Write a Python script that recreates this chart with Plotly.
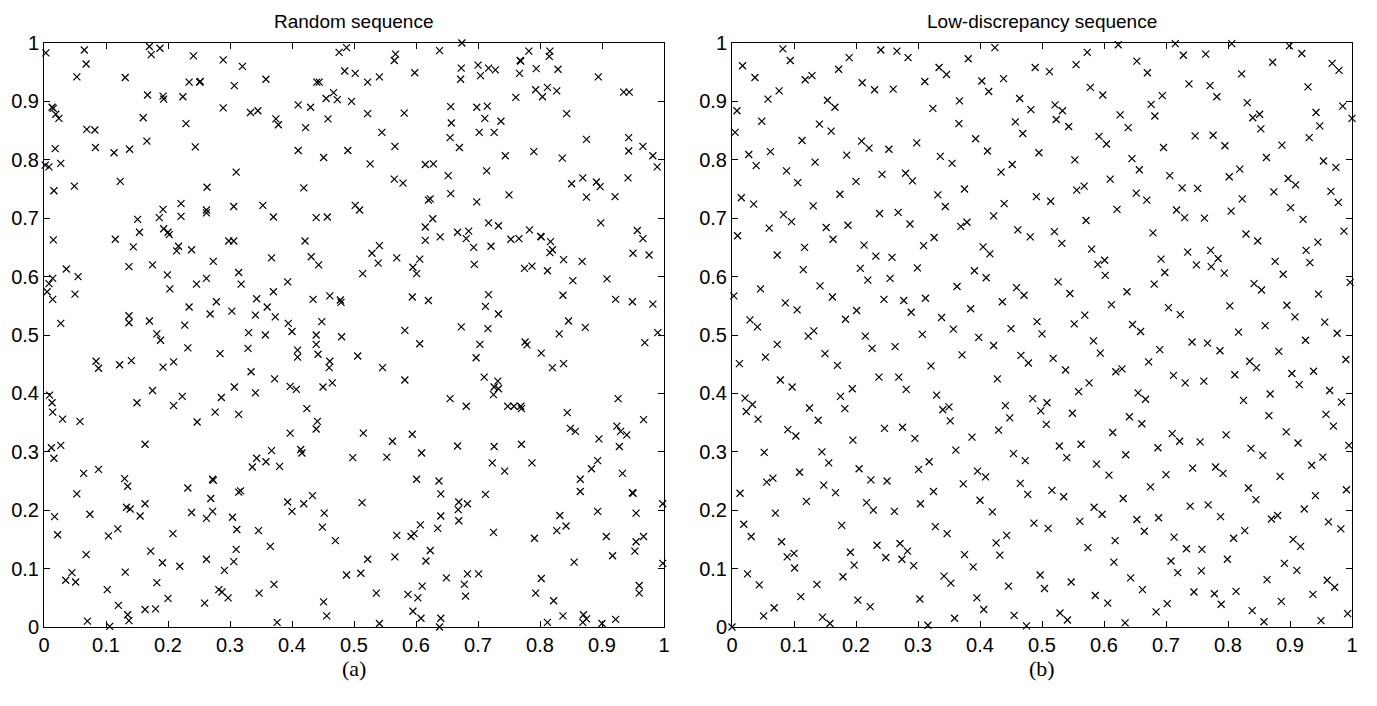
import plotly.graph_objects as go

# ---------------- data ----------------
tick_vals = [0, 0.1, 0.2, 0.3, 0.4, 0.5, 0.6, 0.7, 0.8, 0.9, 1]
tick_text = ["0", "0.1", "0.2", "0.3", "0.4", "0.5", "0.6", "0.7", "0.8", "0.9", "1"]
titles = ["Random sequence", "Low-discrepancy sequence"]
captions = ["(a)", "(b)"]

random_pts = [
(0.003,0.983),(0.065,0.988),(0.068,0.964),(0.053,0.942),(0.131,0.941),(0.170,0.994),(0.173,0.980),(0.187,0.991),(0.241,0.978),(0.289,0.971),(0.320,0.960),(0.307,0.927),(0.234,0.933),(0.251,0.933),(0.252,0.934),(0.167,0.911),(0.192,0.909),(0.193,0.904),(0.224,0.908),(0.013,0.890),(0.015,0.888),(0.019,0.878),(0.024,0.871),(0.160,0.872),(0.229,0.862),(0.289,0.889),(0.069,0.852),(0.082,0.851),(0.166,0.832),(0.018,0.819),(0.083,0.821),(0.113,0.812),(0.138,0.818),(0.244,0.822),(0.002,0.791),(0.008,0.788),(0.027,0.794),(0.310,0.779),(0.049,0.755),(0.123,0.763),(0.016,0.747),(0.263,0.753),(0.221,0.725),(0.192,0.715),(0.221,0.703),(0.262,0.714),(0.262,0.709),(0.306,0.720),(0.151,0.698),(0.186,0.701),(0.154,0.676),(0.193,0.682),(0.200,0.676),(0.202,0.672),(0.015,0.663),(0.115,0.664),(0.144,0.651),(0.217,0.652),(0.214,0.644),(0.238,0.646),(0.298,0.661),(0.306,0.661),(0.273,0.626),(0.036,0.613),(0.137,0.617),(0.175,0.620),(0.014,0.597),(0.008,0.588),(0.005,0.574),(0.014,0.561),(0.055,0.600),(0.050,0.570),(0.199,0.603),(0.203,0.579),(0.246,0.587),(0.262,0.597),(0.314,0.607),(0.318,0.587),(0.278,0.557),(0.234,0.548),(0.268,0.536),(0.303,0.541),(0.027,0.520),(0.137,0.533),(0.137,0.521),(0.170,0.524),(0.227,0.517),(0.182,0.502),(0.330,0.504),
(0.476,0.984),(0.488,0.992),(0.567,0.981),(0.565,0.970),(0.638,0.987),(0.358,0.938),(0.440,0.933),(0.444,0.933),(0.485,0.952),(0.502,0.948),(0.522,0.933),(0.541,0.942),(0.598,0.949),(0.455,0.905),(0.467,0.915),(0.473,0.903),(0.496,0.900),(0.410,0.894),(0.430,0.890),(0.333,0.881),(0.345,0.884),(0.374,0.870),(0.378,0.860),(0.458,0.870),(0.422,0.855),(0.522,0.879),(0.581,0.880),(0.656,0.891),(0.657,0.863),(0.655,0.838),(0.545,0.847),(0.410,0.816),(0.451,0.804),(0.490,0.816),(0.566,0.823),(0.526,0.793),(0.615,0.792),(0.628,0.793),(0.652,0.773),(0.565,0.767),(0.579,0.760),(0.419,0.752),(0.656,0.742),(0.620,0.731),(0.623,0.733),(0.353,0.722),(0.370,0.702),(0.439,0.701),(0.457,0.702),(0.502,0.722),(0.509,0.714),(0.627,0.699),(0.615,0.685),(0.615,0.662),(0.639,0.668),(0.421,0.661),(0.367,0.632),(0.431,0.634),(0.443,0.620),(0.541,0.653),(0.529,0.640),(0.539,0.623),(0.569,0.632),(0.595,0.616),(0.601,0.605),(0.606,0.630),(0.514,0.605),(0.393,0.591),(0.370,0.574),(0.343,0.562),(0.360,0.548),(0.341,0.534),(0.373,0.531),(0.394,0.520),(0.400,0.506),(0.434,0.561),(0.461,0.567),(0.478,0.560),(0.479,0.556),(0.448,0.523),(0.357,0.500),(0.439,0.500),(0.480,0.497),(0.594,0.565),(0.620,0.559),(0.582,0.508),
(0.674,1.000),(0.782,0.986),(0.816,0.986),(0.815,0.977),(0.768,0.970),(0.769,0.969),(0.673,0.957),(0.672,0.938),(0.700,0.962),(0.704,0.944),(0.717,0.957),(0.728,0.954),(0.767,0.948),(0.794,0.956),(0.829,0.955),(0.894,0.942),(0.793,0.920),(0.804,0.908),(0.812,0.924),(0.827,0.918),(0.761,0.907),(0.935,0.916),(0.944,0.916),(0.698,0.890),(0.715,0.892),(0.711,0.871),(0.737,0.866),(0.702,0.847),(0.726,0.847),(0.843,0.879),(0.670,0.821),(0.744,0.807),(0.790,0.814),(0.836,0.803),(0.875,0.835),(0.943,0.838),(0.943,0.815),(0.966,0.823),(0.982,0.807),(0.989,0.788),(0.714,0.781),(0.851,0.759),(0.869,0.769),(0.891,0.762),(0.897,0.754),(0.942,0.769),(0.875,0.736),(0.921,0.737),(0.750,0.740),(0.698,0.728),(0.717,0.692),(0.733,0.687),(0.898,0.692),(0.667,0.676),(0.685,0.678),(0.681,0.665),(0.693,0.650),(0.721,0.652),(0.753,0.664),(0.766,0.665),(0.783,0.680),(0.801,0.669),(0.802,0.668),(0.817,0.660),(0.816,0.641),(0.820,0.646),(0.957,0.679),(0.966,0.665),(0.950,0.640),(0.976,0.637),(0.694,0.621),(0.775,0.614),(0.787,0.618),(0.812,0.610),(0.838,0.629),(0.868,0.626),(0.853,0.593),(0.908,0.596),(0.717,0.569),(0.712,0.549),(0.733,0.536),(0.837,0.568),(0.922,0.561),(0.949,0.557),(0.982,0.553),(0.673,0.514),(0.716,0.511),(0.846,0.524),(0.831,0.502),(0.873,0.513),(0.990,0.504),
(0.188,0.491),(0.232,0.478),(0.284,0.468),(0.084,0.455),(0.088,0.443),(0.122,0.449),(0.141,0.456),(0.192,0.445),(0.209,0.454),(0.175,0.405),(0.307,0.411),(0.009,0.397),(0.013,0.384),(0.014,0.368),(0.030,0.356),(0.058,0.352),(0.150,0.384),(0.209,0.379),(0.223,0.395),(0.286,0.393),(0.276,0.368),(0.314,0.364),(0.247,0.351),(0.012,0.307),(0.027,0.311),(0.016,0.289),(0.163,0.313),(0.064,0.263),(0.088,0.270),(0.130,0.254),(0.135,0.241),(0.053,0.228),(0.232,0.238),(0.272,0.253),(0.273,0.251),(0.269,0.220),(0.314,0.231),(0.317,0.233),(0.133,0.205),(0.139,0.202),(0.163,0.211),(0.155,0.190),(0.017,0.189),(0.074,0.193),(0.238,0.196),(0.262,0.186),(0.272,0.198),(0.304,0.188),(0.311,0.167),(0.022,0.158),(0.104,0.156),(0.119,0.168),(0.208,0.160),(0.068,0.124),(0.172,0.130),(0.310,0.133),(0.191,0.110),(0.219,0.104),(0.262,0.116),(0.306,0.112),(0.291,0.097),(0.045,0.093),(0.035,0.080),(0.051,0.077),(0.131,0.094),(0.182,0.076),(0.102,0.064),(0.282,0.064),(0.287,0.060),(0.297,0.050),(0.200,0.049),(0.259,0.041),(0.120,0.037),(0.135,0.021),(0.137,0.011),(0.163,0.030),(0.180,0.031),(0.070,0.010),(0.106,0.001),
(0.329,0.477),(0.409,0.474),(0.409,0.462),(0.439,0.484),(0.442,0.467),(0.461,0.455),(0.460,0.444),(0.506,0.464),(0.546,0.444),(0.606,0.485),(0.582,0.423),(0.334,0.437),(0.372,0.425),(0.397,0.412),(0.407,0.407),(0.450,0.411),(0.465,0.418),(0.341,0.401),(0.655,0.391),(0.424,0.374),(0.441,0.352),(0.439,0.339),(0.397,0.332),(0.515,0.332),(0.562,0.318),(0.594,0.330),(0.367,0.302),(0.414,0.304),(0.416,0.298),(0.343,0.289),(0.358,0.283),(0.336,0.274),(0.380,0.275),(0.498,0.290),(0.553,0.291),(0.609,0.298),(0.601,0.253),(0.637,0.250),(0.640,0.228),(0.669,0.214),(0.393,0.214),(0.400,0.198),(0.419,0.211),(0.433,0.225),(0.452,0.195),(0.449,0.171),(0.513,0.213),(0.640,0.190),(0.669,0.182),(0.607,0.175),(0.635,0.169),(0.346,0.165),(0.365,0.138),(0.470,0.148),(0.569,0.157),(0.592,0.155),(0.597,0.160),(0.623,0.131),(0.616,0.113),(0.522,0.116),(0.566,0.120),(0.488,0.089),(0.511,0.092),(0.649,0.084),(0.371,0.073),(0.347,0.058),(0.536,0.058),(0.587,0.056),(0.603,0.050),(0.610,0.070),(0.451,0.043),(0.456,0.019),(0.595,0.027),(0.608,0.015),(0.640,0.015),(0.638,0.000),(0.376,0.008),(0.541,0.006),
(0.703,0.484),(0.776,0.488),(0.779,0.483),(0.802,0.469),(0.697,0.461),(0.820,0.444),(0.838,0.451),(0.969,0.487),(0.710,0.428),(0.732,0.421),(0.726,0.411),(0.733,0.408),(0.725,0.398),(0.681,0.378),(0.748,0.378),(0.758,0.378),(0.769,0.378),(0.770,0.374),(0.844,0.367),(0.926,0.391),(0.967,0.355),(0.849,0.340),(0.857,0.335),(0.924,0.344),(0.930,0.335),(0.940,0.329),(0.895,0.322),(0.667,0.310),(0.726,0.309),(0.770,0.313),(0.928,0.309),(0.723,0.281),(0.743,0.267),(0.787,0.281),(0.893,0.285),(0.883,0.271),(0.865,0.253),(0.933,0.263),(0.865,0.232),(0.949,0.230),(0.950,0.229),(0.712,0.227),(0.683,0.211),(0.668,0.201),(0.998,0.211),(0.832,0.191),(0.893,0.198),(0.955,0.195),(0.827,0.165),(0.842,0.173),(0.725,0.162),(0.791,0.152),(0.907,0.155),(0.967,0.155),(0.955,0.146),(0.953,0.130),(0.917,0.122),(0.855,0.111),(0.998,0.109),(0.683,0.091),(0.701,0.091),(0.678,0.073),(0.680,0.053),(0.802,0.083),(0.793,0.058),(0.822,0.045),(0.960,0.071),(0.960,0.058),(0.837,0.019),(0.870,0.021),(0.875,0.014),(0.869,0.008),(0.812,0.008),(0.900,0.006),(0.922,0.013),
]

lowdisc_pts = [
(0.082,0.990),(0.094,0.970),(0.017,0.961),(0.037,0.941),(0.076,0.918),(0.058,0.904),(0.008,0.884),(0.048,0.866),(0.005,0.847),(0.118,0.937),(0.129,0.944),(0.172,0.955),(0.189,0.975),(0.240,0.988),(0.266,0.986),(0.284,0.975),(0.210,0.932),(0.230,0.920),(0.260,0.921),(0.154,0.902),(0.166,0.890),(0.141,0.861),(0.160,0.849),(0.113,0.833),(0.209,0.832),(0.221,0.820),(0.253,0.818),(0.027,0.809),(0.062,0.814),(0.039,0.790),(0.185,0.808),(0.134,0.796),(0.088,0.781),(0.106,0.761),(0.200,0.763),(0.242,0.775),(0.280,0.777),(0.291,0.764),(0.174,0.741),(0.015,0.735),(0.035,0.724),(0.131,0.721),(0.083,0.706),(0.096,0.694),(0.238,0.708),(0.268,0.710),(0.287,0.690),(0.060,0.683),(0.152,0.684),(0.187,0.688),(0.163,0.664),(0.009,0.670),(0.073,0.637),(0.117,0.650),(0.213,0.654),(0.232,0.635),(0.258,0.633),(0.115,0.612),(0.207,0.614),(0.219,0.594),(0.255,0.597),(0.003,0.567),(0.046,0.579),(0.142,0.584),(0.162,0.565),(0.086,0.555),(0.105,0.543),(0.245,0.561),(0.277,0.559),(0.289,0.539),(0.201,0.542),(0.183,0.527),(0.029,0.526),(0.041,0.514),(0.132,0.507),(0.123,0.498),(0.215,0.498),
(0.424,0.992),(0.381,0.973),(0.334,0.958),(0.346,0.946),(0.311,0.934),(0.403,0.935),(0.438,0.939),(0.414,0.917),(0.489,0.958),(0.512,0.951),(0.555,0.963),(0.573,0.984),(0.623,0.997),(0.367,0.901),(0.324,0.888),(0.366,0.862),(0.464,0.905),(0.482,0.886),(0.521,0.894),(0.533,0.884),(0.523,0.869),(0.543,0.857),(0.578,0.924),(0.598,0.911),(0.457,0.865),(0.469,0.845),(0.393,0.836),(0.298,0.829),(0.412,0.815),(0.495,0.812),(0.336,0.806),(0.355,0.794),(0.434,0.779),(0.452,0.792),(0.553,0.800),(0.592,0.840),(0.604,0.827),(0.626,0.877),(0.639,0.855),(0.645,0.802),(0.375,0.750),(0.332,0.740),(0.344,0.720),(0.439,0.725),(0.422,0.704),(0.369,0.686),(0.379,0.693),(0.491,0.737),(0.514,0.729),(0.556,0.748),(0.568,0.755),(0.610,0.767),(0.621,0.715),(0.571,0.696),(0.309,0.653),(0.326,0.667),(0.299,0.615),(0.461,0.680),(0.481,0.668),(0.520,0.677),(0.532,0.657),(0.405,0.651),(0.416,0.639),(0.391,0.610),(0.410,0.598),(0.363,0.583),(0.312,0.563),(0.580,0.647),(0.590,0.621),(0.601,0.628),(0.602,0.602),(0.459,0.581),(0.471,0.568),(0.526,0.591),(0.545,0.571),(0.637,0.574),(0.612,0.552),(0.436,0.557),(0.385,0.545),(0.338,0.530),(0.357,0.510),(0.307,0.501),(0.398,0.496),(0.450,0.511),(0.492,0.523),(0.500,0.502),(0.552,0.519),(0.569,0.534),(0.646,0.518),
(0.715,0.999),(0.806,0.999),(0.899,0.995),(0.728,0.979),(0.764,0.981),(0.919,0.982),(0.653,0.969),(0.670,0.949),(0.822,0.947),(0.872,0.967),(0.968,0.965),(0.979,0.953),(0.737,0.930),(0.771,0.927),(0.782,0.908),(0.694,0.910),(0.676,0.895),(0.682,0.875),(0.929,0.925),(0.831,0.898),(0.840,0.872),(0.851,0.878),(0.853,0.853),(0.942,0.881),(0.948,0.858),(0.985,0.892),(1.000,0.871),(0.747,0.841),(0.776,0.842),(0.795,0.824),(0.696,0.821),(0.887,0.825),(0.931,0.838),(0.862,0.804),(0.657,0.783),(0.706,0.773),(0.726,0.752),(0.751,0.751),(0.802,0.771),(0.819,0.784),(0.897,0.768),(0.909,0.757),(0.954,0.798),(0.974,0.787),(0.874,0.745),(0.966,0.746),(0.978,0.727),(0.652,0.743),(0.669,0.731),(0.823,0.733),(0.717,0.714),(0.730,0.701),(0.762,0.700),(0.805,0.712),(0.901,0.718),(0.921,0.698),(0.679,0.675),(0.829,0.673),(0.848,0.661),(0.987,0.678),(0.926,0.645),(0.945,0.659),(0.735,0.642),(0.772,0.645),(0.784,0.631),(0.773,0.617),(0.749,0.620),(0.692,0.630),(0.698,0.607),(0.794,0.606),(0.876,0.626),(0.889,0.604),(0.932,0.624),(0.681,0.587),(0.842,0.588),(0.854,0.577),(0.997,0.590),(0.946,0.570),(0.704,0.547),(0.723,0.535),(0.803,0.550),(0.895,0.551),(0.908,0.531),(0.860,0.516),(0.956,0.522),(0.659,0.506),(0.817,0.505),(0.976,0.503),
(0.012,0.451),(0.054,0.462),(0.073,0.484),(0.150,0.468),(0.170,0.448),(0.226,0.477),(0.263,0.480),(0.237,0.428),(0.269,0.428),(0.281,0.407),(0.078,0.423),(0.097,0.411),(0.021,0.392),(0.023,0.369),(0.033,0.381),(0.042,0.356),(0.125,0.375),(0.139,0.354),(0.175,0.395),(0.182,0.374),(0.194,0.408),(0.090,0.338),(0.103,0.327),(0.052,0.299),(0.195,0.320),(0.246,0.340),(0.275,0.342),(0.295,0.323),(0.145,0.300),(0.156,0.281),(0.056,0.248),(0.066,0.255),(0.109,0.265),(0.148,0.243),(0.167,0.230),(0.205,0.271),(0.224,0.252),(0.250,0.250),(0.013,0.229),(0.120,0.215),(0.217,0.213),(0.228,0.200),(0.262,0.198),(0.070,0.195),(0.019,0.176),(0.031,0.155),(0.177,0.174),(0.080,0.146),(0.089,0.120),(0.100,0.126),(0.101,0.101),(0.191,0.128),(0.197,0.106),(0.234,0.140),(0.248,0.119),(0.271,0.143),(0.283,0.130),(0.274,0.116),(0.293,0.105),(0.025,0.091),(0.044,0.072),(0.137,0.073),(0.179,0.086),(0.111,0.052),(0.051,0.019),(0.068,0.033),(0.146,0.017),(0.158,0.006),(0.203,0.046),(0.223,0.035),(0.000,0.000),
(0.422,0.482),(0.371,0.466),(0.321,0.447),(0.466,0.465),(0.478,0.452),(0.518,0.460),(0.538,0.440),(0.583,0.490),(0.594,0.469),(0.619,0.437),(0.629,0.442),(0.428,0.425),(0.330,0.397),(0.340,0.372),(0.350,0.377),(0.352,0.353),(0.441,0.379),(0.448,0.358),(0.485,0.391),(0.498,0.370),(0.508,0.384),(0.507,0.347),(0.559,0.403),(0.576,0.418),(0.549,0.366),(0.641,0.360),(0.430,0.337),(0.387,0.325),(0.361,0.303),(0.614,0.333),(0.528,0.310),(0.540,0.290),(0.563,0.313),(0.454,0.297),(0.473,0.285),(0.318,0.283),(0.301,0.270),(0.396,0.267),(0.409,0.257),(0.373,0.245),(0.465,0.246),(0.477,0.227),(0.588,0.279),(0.608,0.260),(0.635,0.295),(0.325,0.232),(0.304,0.211),(0.400,0.217),(0.420,0.197),(0.516,0.234),(0.535,0.223),(0.584,0.205),(0.597,0.193),(0.631,0.220),(0.328,0.172),(0.347,0.160),(0.487,0.178),(0.510,0.169),(0.561,0.181),(0.426,0.144),(0.443,0.157),(0.432,0.123),(0.375,0.124),(0.389,0.103),(0.574,0.136),(0.618,0.148),(0.616,0.111),(0.342,0.087),(0.353,0.075),(0.446,0.070),(0.497,0.089),(0.504,0.066),(0.547,0.077),(0.643,0.084),(0.303,0.048),(0.395,0.050),(0.406,0.030),(0.586,0.054),(0.606,0.041),(0.359,0.015),(0.316,0.003),(0.455,0.020),(0.475,0.002),(0.529,0.024),(0.541,0.012),(0.634,0.007),
(0.690,0.475),(0.672,0.454),(0.742,0.488),(0.767,0.486),(0.787,0.473),(0.712,0.431),(0.731,0.418),(0.761,0.421),(0.811,0.432),(0.835,0.455),(0.846,0.444),(0.882,0.472),(0.925,0.491),(0.990,0.458),(0.903,0.434),(0.915,0.415),(0.938,0.438),(0.655,0.401),(0.667,0.390),(0.825,0.388),(0.868,0.399),(0.964,0.405),(0.983,0.385),(0.661,0.348),(0.866,0.362),(0.958,0.364),(0.970,0.344),(0.710,0.331),(0.722,0.318),(0.755,0.317),(0.797,0.329),(0.687,0.307),(0.894,0.334),(0.913,0.315),(0.995,0.311),(0.837,0.306),(0.856,0.294),(0.935,0.277),(0.953,0.291),(0.743,0.272),(0.780,0.274),(0.792,0.263),(0.700,0.261),(0.884,0.258),(0.675,0.240),(0.833,0.238),(0.845,0.218),(0.941,0.225),(0.923,0.202),(0.991,0.235),(0.739,0.207),(0.768,0.209),(0.788,0.189),(0.653,0.184),(0.665,0.164),(0.688,0.187),(0.870,0.185),(0.880,0.191),(0.962,0.180),(0.982,0.168),(0.713,0.154),(0.733,0.134),(0.758,0.133),(0.809,0.152),(0.827,0.165),(0.905,0.150),(0.917,0.138),(0.708,0.113),(0.719,0.093),(0.757,0.096),(0.799,0.116),(0.891,0.109),(0.911,0.097),(0.863,0.081),(0.960,0.080),(0.972,0.068),(0.662,0.064),(0.745,0.060),(0.778,0.057),(0.789,0.039),(0.813,0.061),(0.937,0.056),(0.886,0.044),(0.684,0.026),(0.702,0.040),(0.839,0.028),(0.858,0.009),(0.950,0.011),(0.993,0.023),
]

# ---------------- figure ----------------
W, H = 1377, 706
px_left = [(44, 664), (732, 1352)]
py_top, py_bottom = 43, 627

tick_font = dict(family="Liberation Sans Narrow, Liberation Sans, Arial", size=20, color="black")

marker = dict(symbol="x-thin", size=7, color="black", line=dict(width=1.2, color="black"))

fig = go.Figure()
for i, pts in enumerate([random_pts, lowdisc_pts]):
    xs = [p[0] for p in pts]
    ys = [p[1] for p in pts]
    sfx = "" if i == 0 else str(i + 1)
    fig.add_trace(go.Scatter(x=xs, y=ys, mode="markers", marker=marker,
                             xaxis="x" + sfx, yaxis="y" + sfx,
                             cliponaxis=False, showlegend=False, hoverinfo="x+y"))

ydom = [1 - py_bottom / H, 1 - py_top / H]
axis_common = dict(range=[0, 1], tickvals=tick_vals, ticktext=tick_text,
                   ticks="inside", ticklen=6, tickwidth=1, tickcolor="black",
                   showline=True, linecolor="black", linewidth=1, mirror="ticks",
                   showgrid=False, zeroline=False, tickfont=tick_font, fixedrange=True,
                   automargin=False)

layout = dict(width=W, height=H, margin=dict(l=0, r=0, t=0, b=0, pad=0, autoexpand=False),
              paper_bgcolor="white", plot_bgcolor="white", showlegend=False)
annotations = []
for i, (l, r) in enumerate(px_left):
    sfx = "" if i == 0 else str(i + 1)
    layout["xaxis" + sfx] = dict(axis_common, domain=[l / W, r / W], anchor="y" + sfx)
    layout["yaxis" + sfx] = dict(axis_common, domain=ydom, anchor="x" + sfx)
    cx = (l + r) / 2 / W
    annotations.append(dict(text=titles[i], x=cx, y=1 - 22 / H, xref="paper", yref="paper",
                            showarrow=False, xanchor="center", yanchor="middle",
                            font=dict(family="Liberation Sans Narrow, Liberation Sans, Arial", size=19, color="black")))
    annotations.append(dict(text=captions[i], x=cx, y=1 - 668 / H, xref="paper", yref="paper",
                            showarrow=False, xanchor="center", yanchor="middle",
                            font=dict(family="Liberation Serif, Times New Roman, serif", size=22, color="black")))
layout["annotations"] = annotations
fig.update_layout(**layout)

fig.write_html("out.html")
